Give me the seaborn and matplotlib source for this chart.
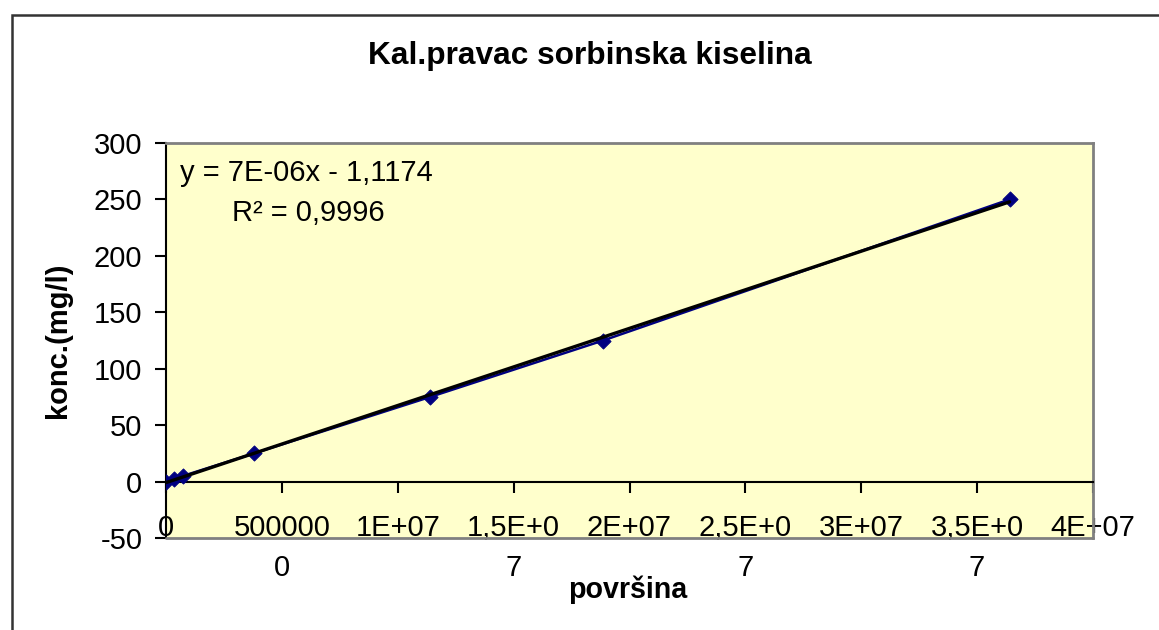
import numpy as np
import pandas as pd
import matplotlib
matplotlib.use("Agg")
import matplotlib.pyplot as plt
from matplotlib.patches import Rectangle
import seaborn as sns

# ---- data ----
povrsina = [0, 0.35e6, 0.73e6, 3.8e6, 11.4e6, 18.86e6, 36.4e6]
konc = [0, 2.5, 5, 25, 75, 125, 250]
x_ticks = [0, 5e6, 10e6, 15e6, 20e6, 25e6, 30e6, 35e6, 40e6]
x_ticklabels = ["0", "500000\n0", "1E+07", "1,5E+0\n7", "2E+07", "2,5E+0\n7",
                "3E+07", "3,5E+0\n7", "4E+07"]
y_ticks = [-50, 0, 50, 100, 150, 200, 250, 300]
y_ticklabels = ["-50", "0", "50", "100", "150", "200", "250", "300"]
title = "Kal.pravac sorbinska kiselina"
x_label = "površina"
y_label = "konc.(mg/l)"
eq_text = "y = 7E-06x - 1,1174"
r2_text = "R² = 0,9996"

df = pd.DataFrame({"povrsina": povrsina, "konc": konc})

sns.set_style("white")
plt.rcParams["font.family"] = ["Liberation Sans", "DejaVu Sans"]
plt.rcParams["text.color"] = "black"

W, H = 1159, 630
fig = plt.figure(figsize=(W / 100, H / 100), dpi=100)
fig.patch.set_facecolor("white")

L, R, T, B = 166, 1093, 143, 538
ax = fig.add_axes([L / W, 1 - B / H, (R - L) / W, (B - T) / H])
ax.set_facecolor("#FFFFCC")

# series line + markers
sns.lineplot(data=df, x="povrsina", y="konc", ax=ax, color="#000080",
             linewidth=1.8, sort=False, zorder=2)
sns.scatterplot(data=df, x="povrsina", y="konc", ax=ax, color="#000080",
                marker="D", s=60, edgecolor="#000080", zorder=3)
# linear trendline
sns.regplot(data=df, x="povrsina", y="konc", ax=ax, scatter=False, ci=None,
            color="black", line_kws={"linewidth": 2.4, "zorder": 4}, truncate=True)

ax.spines["bottom"].set_position(("data", 0))
ax.spines["bottom"].set_color("black")
ax.spines["bottom"].set_linewidth(1.5)
ax.spines["left"].set_color("black")
ax.spines["left"].set_linewidth(1.5)
for s in ["top", "right"]:
    ax.spines[s].set_color("#808080")
    ax.spines[s].set_linewidth(2)
# gray bottom border of plot area
ax.plot([0, 1], [0, 0], transform=ax.transAxes, color="#808080", lw=2,
        clip_on=False, zorder=5)

ax.set_xlim(0, 40e6)
ax.set_ylim(-50, 300)
ax.set_xticks(x_ticks)
ax.set_xticklabels(x_ticklabels, fontsize=21, linespacing=1.55, color="black")
ax.set_yticks(y_ticks)
ax.set_yticklabels(y_ticklabels, fontsize=21, color="black")
ax.set_xlabel("")
ax.set_ylabel("")

ax.tick_params(axis="x", direction="out", length=8, width=1.5, pad=15,
               bottom=True, colors="black")
ax.tick_params(axis="y", direction="out", length=8, width=1.5, pad=9,
               left=True, colors="black")

ax.text((180 - L) / (R - L), (B - 173) / (B - T), eq_text, transform=ax.transAxes,
        fontsize=21, ha="left", va="center", color="black")
ax.text((232 - L) / (R - L), (B - 213) / (B - T), r2_text, transform=ax.transAxes,
        fontsize=21, ha="left", va="center", color="black")

fig.text(590 / W, 1 - 56 / H, title, fontsize=22.8, fontweight="bold",
         ha="center", va="center", color="black")
fig.text(628 / W, 1 - 590 / H, x_label, fontsize=20.6, fontweight="bold",
         ha="center", va="center", color="black")
fig.text(58 / W, 1 - 340 / H, y_label, fontsize=21, fontweight="bold",
         ha="center", va="center", rotation=90, color="black")

# outer chart border
fig.add_artist(Rectangle((12 / W, -0.05), 1.1, 1 - 15 / H + 0.05,
                         transform=fig.transFigure, fill=False,
                         edgecolor="#333333", linewidth=1.8))

fig.savefig("out.png", dpi=100)
